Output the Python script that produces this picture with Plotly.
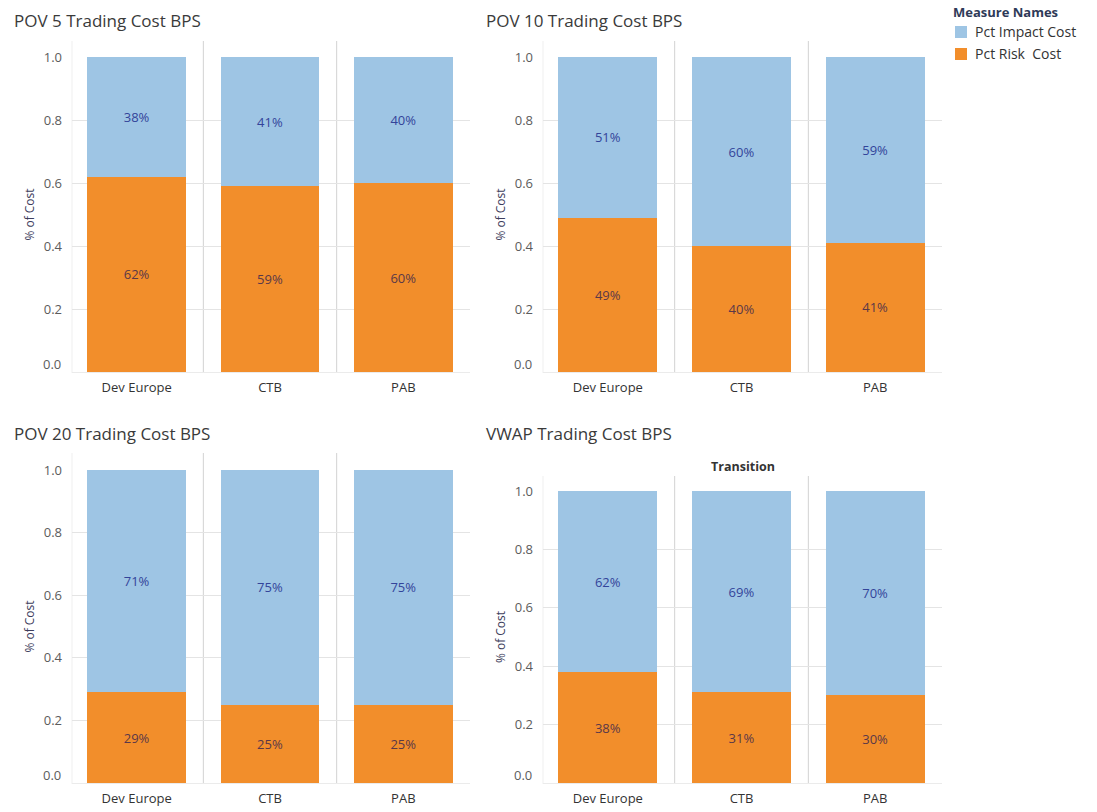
import plotly.graph_objects as go

# Figure size in px
W, H = 1097, 812

categories = ["Dev Europe", "CTB", "PAB"]
panel_titles = [
    "POV 5 Trading Cost BPS",
    "POV 10 Trading Cost BPS",
    "POV 20 Trading Cost BPS",
    "VWAP Trading Cost BPS",
]
series_names = ["Pct Impact Cost", "Pct Risk  Cost"]

# Share of cost by measure, one list per panel
risk_pov5 = [0.62, 0.59, 0.60]
impact_pov5 = [0.38, 0.41, 0.40]
risk_pov10 = [0.49, 0.40, 0.41]
impact_pov10 = [0.51, 0.60, 0.59]
risk_pov20 = [0.29, 0.25, 0.25]
impact_pov20 = [0.71, 0.75, 0.75]
risk_vwap = [0.38, 0.31, 0.30]
impact_vwap = [0.62, 0.69, 0.70]

y_ticks = [0.0, 0.2, 0.4, 0.6, 0.8, 1.0]

BLUE = "#9ec5e4"
ORANGE = "#f28e2b"
FONT = "Open Sans"
TICK_FONT = dict(family=FONT, size=13, color="#5c5c5c")


def px_x(p):
    return p / W


def px_y(p):
    return 1 - p / H


# Pixel layout of each pane: (left, right, top of 1.0, bottom at 0.0, separator top, title x, title y)
panes = [
    (72, 470, 57, 372, 41, 12, 21),
    (543, 942, 57, 372, 41, 484, 21),
    (72, 470, 470, 783, 453, 12, 434),
    (543, 942, 491, 783, 476, 484, 434),
]

risks = [risk_pov5, risk_pov10, risk_pov20, risk_vwap]
impacts = [impact_pov5, impact_pov10, impact_pov20, impact_vwap]

# The lowest tick label sits slightly above the baseline, so it is drawn separately
tick_text = ["" if v == 0 else f"{v:.1f}" for v in y_ticks]

fig = go.Figure()
shapes = []
annotations = []
layout_axes = {}

for i, (left, right, top, bottom, sep_top, tx, ty) in enumerate(panes):
    sfx = "" if i == 0 else str(i + 1)
    xa, ya = "x" + sfx, "y" + sfx

    fig.add_trace(go.Bar(
        x=categories, y=risks[i], name=series_names[1],
        marker=dict(color=ORANGE, line=dict(width=0)), width=0.74,
        texttemplate="%{y:.0%}", textposition="inside", insidetextanchor="middle",
        textangle=0, textfont=dict(family=FONT, size=13, color="#5a3848"),
        xaxis=xa, yaxis=ya, showlegend=False, cliponaxis=False,
    ))
    fig.add_trace(go.Bar(
        x=categories, y=impacts[i], name=series_names[0],
        marker=dict(color=BLUE, line=dict(width=0)), width=0.74,
        texttemplate="%{y:.0%}", textposition="inside", insidetextanchor="middle",
        textangle=0, textfont=dict(family=FONT, size=13, color="#33449a"),
        xaxis=xa, yaxis=ya, showlegend=False, cliponaxis=False,
    ))

    layout_axes["xaxis" + sfx] = dict(
        domain=[px_x(left), px_x(right)], anchor=ya, type="category",
        range=[-0.485, 2.5], showgrid=False, zeroline=False, showline=False,
        ticks="", ticklabelstandoff=6, automargin=False,
        tickfont=dict(family=FONT, size=13, color="#333333"),
    )
    layout_axes["yaxis" + sfx] = dict(
        domain=[px_y(bottom), px_y(top)], anchor=xa, range=[0, 1.0],
        tickvals=y_ticks, ticktext=tick_text, ticks="", ticklabelstandoff=9,
        showgrid=True, gridcolor="#e4e4e4", gridwidth=1, automargin=False,
        zeroline=True, zerolinecolor="#ebebeb", zerolinewidth=1, showline=False,
        tickfont=TICK_FONT,
        title=dict(text="% of Cost", standoff=6,
                   font=dict(family=FONT, size=12, color="#3d3d5c")),
    )

    annotations.append(dict(text=f"{y_ticks[0]:.1f}", x=0, y=y_ticks[0],
                            xref=xa + " domain", yref=ya, xanchor="right", yanchor="middle",
                            xshift=-9, yshift=8, showarrow=False, font=TICK_FONT))

    # Column separators and pane edge
    for xv in (0.5, 1.5):
        shapes.append(dict(type="line", xref=xa, yref="paper", x0=xv, x1=xv,
                           y0=px_y(bottom + 1), y1=px_y(sep_top),
                           line=dict(color="#d2d2d2", width=1), layer="below"))
    shapes.append(dict(type="line", xref=xa + " domain", yref="paper", x0=0, x1=0,
                       y0=px_y(bottom + 1), y1=px_y(sep_top),
                       line=dict(color="#efefef", width=1), layer="below"))

    annotations.append(dict(text=panel_titles[i], x=px_x(tx), y=px_y(ty),
                            xref="paper", yref="paper", xanchor="left", yanchor="middle",
                            showarrow=False, font=dict(family=FONT, size=17, color="#3a3a3a")))

# Column header on the VWAP pane
annotations.append(dict(text="<b>Transition</b>", x=0.5, y=px_y(466), xref="x4 domain",
                        yref="paper", xanchor="center", yanchor="middle", showarrow=False,
                        font=dict(family=FONT, size=12.5, color="#333333")))

# Legend block
annotations.append(dict(text="<b>Measure Names</b>", x=px_x(951), y=px_y(12), xref="paper",
                        yref="paper", xanchor="left", yanchor="middle", showarrow=False,
                        font=dict(family=FONT, size=13, color="#2e3a58")))
for k, (name, col) in enumerate(zip(series_names, [BLUE, ORANGE])):
    cy = 32 + 22 * k
    shapes.append(dict(type="rect", xref="paper", yref="paper",
                       x0=px_x(955), x1=px_x(967), y0=px_y(cy + 6), y1=px_y(cy - 6),
                       fillcolor=col, line=dict(width=0)))
    annotations.append(dict(text=name, x=px_x(973), y=px_y(cy), xref="paper", yref="paper",
                            xanchor="left", yanchor="middle", showarrow=False,
                            font=dict(family=FONT, size=14, color="#333333")))

fig.update_layout(
    width=W, height=H, margin=dict(l=0, r=0, t=0, b=0, pad=0),
    barmode="stack", bargap=0.26, plot_bgcolor="white", paper_bgcolor="white",
    showlegend=False, shapes=shapes, annotations=annotations,
    font=dict(family=FONT), **layout_axes,
)

fig.write_html("out.html")
